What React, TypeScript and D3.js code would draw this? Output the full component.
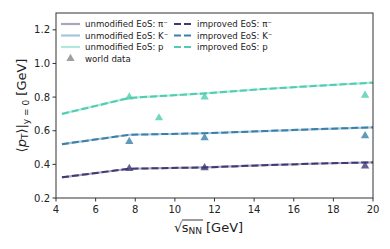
import React, { useRef, useEffect } from 'react';
import * as d3 from 'd3';

const modelEnergies = [4.3, 7.7, 11.5, 14.5, 17.3, 20];
const pionModel = [0.323, 0.374, 0.382, 0.395, 0.405, 0.412];
const kaonModel = [0.52, 0.576, 0.585, 0.598, 0.61, 0.62];
const protonModel = [0.70, 0.795, 0.822, 0.848, 0.868, 0.886];

const pionDataX = [7.7, 11.5, 19.6];
const pionData = [0.375, 0.38, 0.39];
const kaonDataX = [7.7, 11.5, 19.6];
const kaonData = [0.535, 0.558, 0.57];
const protonDataX = [7.7, 9.2, 11.5, 19.6];
const protonData = [0.80, 0.676, 0.80, 0.81];

const xTicks = [4, 6, 8, 10, 12, 14, 16, 18, 20];
const yTicks = [0.2, 0.4, 0.6, 0.8, 1.0, 1.2];

const species = [
  { name: 'π⁻', color: '#3f3a74', model: pionModel, dx: pionDataX, dy: pionData },
  { name: 'K⁻', color: '#3a80aa', model: kaonModel, dx: kaonDataX, dy: kaonData },
  { name: 'p', color: '#4fcdb2', model: protonModel, dx: protonDataX, dy: protonData },
];

export default function App() {
  const ref = useRef<SVGSVGElement>(null);

  useEffect(() => {
    if (!ref.current) return;
    const svg = d3.select(ref.current);
    svg.selectAll('*').remove();

    const margin = { left: 56, top: 13, right: 17, bottom: 51 };
    const width = 390;
    const height = 249;
    const innerW = width - margin.left - margin.right;
    const innerH = height - margin.top - margin.bottom;
    const font = 'DejaVu Sans, sans-serif';

    const x = d3.scaleLinear().domain([4, 20]).range([0, innerW]);
    const y = d3.scaleLinear().domain([0.2, 1.3]).range([innerH, 0]);

    const g = svg.append('g').attr('transform', `translate(${margin.left},${margin.top})`);

    const line = d3.line<number>()
      .x((_, i) => x(modelEnergies[i]))
      .y((d) => y(d));

    // unmodified (solid, faded) underneath, improved (dashed) on top
    species.forEach((s) => {
      g.append('path')
        .attr('d', line(s.model))
        .attr('fill', 'none')
        .attr('stroke', s.color)
        .attr('stroke-opacity', 0.45)
        .attr('stroke-width', 2.2);
    });
    species.forEach((s) => {
      g.append('path')
        .attr('d', line(s.model))
        .attr('fill', 'none')
        .attr('stroke', s.color)
        .attr('stroke-width', 2)
        .attr('stroke-dasharray', '7,3');
    });

    const tri = d3.symbol().type(d3.symbolTriangle).size(30);
    species.forEach((s) => {
      g.selectAll(null)
        .data(s.dx)
        .enter()
        .append('path')
        .attr('d', tri)
        .attr('transform', (d, i) => `translate(${x(d)},${y(s.dy[i])})`)
        .attr('fill', s.color)
        .attr('fill-opacity', 0.8);
    });

    // frame
    g.append('rect')
      .attr('width', innerW).attr('height', innerH)
      .attr('fill', 'none').attr('stroke', '#333').attr('stroke-width', 1);

    // ticks
    xTicks.forEach((t) => {
      g.append('line').attr('x1', x(t)).attr('x2', x(t)).attr('y1', innerH).attr('y2', innerH + 3.5)
        .attr('stroke', '#333');
      g.append('text').attr('x', x(t)).attr('y', innerH + 15)
        .attr('text-anchor', 'middle').attr('font-family', font).attr('font-size', 10)
        .attr('fill', '#222').text(t);
    });
    yTicks.forEach((t) => {
      g.append('line').attr('x1', -3.5).attr('x2', 0).attr('y1', y(t)).attr('y2', y(t))
        .attr('stroke', '#333');
      g.append('text').attr('x', -6).attr('y', y(t)).attr('dy', '0.35em')
        .attr('text-anchor', 'end').attr('font-family', font).attr('font-size', 10)
        .attr('fill', '#222').text(t.toFixed(1));
    });

    // x label: radical, then s_NN under an overline, then unit
    const xl = svg.append('g').attr('font-family', font).attr('fill', '#222');
    let cx = 174;
    const base = 232;
    const rad = xl.append('text').attr('x', cx).attr('y', base).attr('font-size', 13).text('√');
    cx += (rad.node() as SVGTextElement).getComputedTextLength() - 0.5;
    const sStart = cx;
    const sTxt = xl.append('text').attr('x', cx).attr('y', base).attr('font-size', 13).text('s');
    cx += (sTxt.node() as SVGTextElement).getComputedTextLength();
    const nn = xl.append('text').attr('x', cx).attr('y', base + 2).attr('font-size', 9).text('NN');
    cx += (nn.node() as SVGTextElement).getComputedTextLength() + 1;
    xl.append('line').attr('x1', sStart).attr('x2', cx).attr('y1', base - 12).attr('y2', base - 12)
      .attr('stroke', '#222').attr('stroke-width', 0.9);
    xl.append('text').attr('x', cx + 3).attr('y', base).attr('font-size', 13).text('[GeV]');

    // y label
    const yt = svg.append('text')
      .attr('transform', `translate(26,${margin.top + innerH / 2}) rotate(-90)`)
      .attr('text-anchor', 'middle').attr('font-family', font).attr('font-size', 13).attr('fill', '#222');
    yt.append('tspan').text('⟨');
    yt.append('tspan').attr('font-style', 'italic').text('p');
    yt.append('tspan').attr('font-size', 9).attr('dy', 2).text('T');
    yt.append('tspan').attr('dy', -2).text('⟩|');
    yt.append('tspan').attr('font-size', 9).attr('dy', 3).text('y = 0');
    yt.append('tspan').attr('dy', -3).text(' [GeV]');

    // legend
    const leg = svg.append('g').attr('font-family', font).attr('font-size', 8.6).attr('fill', '#222');
    const rowY = [24, 35.5, 47, 58.5];
    species.forEach((s, i) => {
      leg.append('line').attr('x1', 61).attr('x2', 80).attr('y1', rowY[i]).attr('y2', rowY[i])
        .attr('stroke', s.color).attr('stroke-opacity', 0.45).attr('stroke-width', 2.2);
      leg.append('text').attr('x', 85).attr('y', rowY[i]).attr('dy', '0.35em').text(`unmodified EoS: ${s.name}`);
      leg.append('line').attr('x1', 174).attr('x2', 193).attr('y1', rowY[i]).attr('y2', rowY[i])
        .attr('stroke', s.color).attr('stroke-width', 2).attr('stroke-dasharray', '7,3');
      leg.append('text').attr('x', 197).attr('y', rowY[i]).attr('dy', '0.35em').text(`improved EoS: ${s.name}`);
    });
    leg.append('path').attr('d', tri).attr('transform', `translate(70.5,${rowY[3]})`)
      .attr('fill', '#888').attr('fill-opacity', 0.8);
    leg.append('text').attr('x', 85).attr('y', rowY[3]).attr('dy', '0.35em').text('world data');
  }, []);

  return (
    <svg ref={ref} width={390} height={249}
      style={{ position: 'absolute', left: 0, top: 0, background: '#fff' }} />
  );
}
